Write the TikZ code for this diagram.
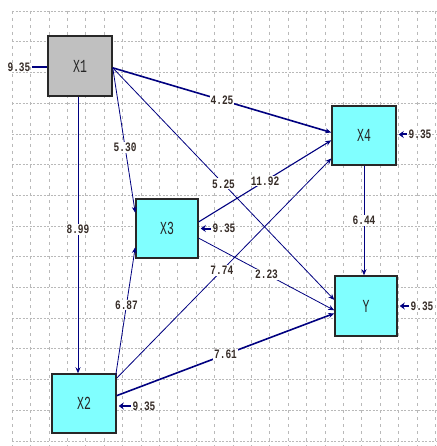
\documentclass[tikz,border=0pt]{standalone}
\usepackage{fontspec}
\usepackage{graphicx}
\setmonofont{Liberation Mono}
\usetikzlibrary{arrows.meta,calc}
\definecolor{edgeblue}{RGB}{0,0,128}
\definecolor{boxcyan}{RGB}{128,255,255}
\definecolor{boxgray}{RGB}{192,192,192}
\definecolor{labtext}{RGB}{55,45,40}
\definecolor{gridcol}{RGB}{185,185,185}
\newcommand{\labtxt}[1]{\scalebox{1}[1.35]{\ttfamily\bfseries\fontsize{9.5}{10}\selectfont #1}}
\newcommand{\boxtxt}[1]{\scalebox{1}[1.6]{\ttfamily\fontsize{11.5}{12}\selectfont #1}}
\begin{document}
\begin{tikzpicture}[x=1pt,y=-1pt,
  gridv/.style={gridcol, line width=0.5pt, dash pattern=on 3pt off 4pt},
  gridh/.style={gridcol, line width=0.5pt, dash pattern=on 2pt off 1.5pt},
  varbox/.style={draw={rgb,255:red,40;green,40;blue,40}, line width=1.5pt, inner sep=0pt, text=black!85},
  edge/.style={edgeblue, line width=0.8pt, -{Stealth[length=6pt,width=5pt]}},
  thickedge/.style={edge, line width=1.6pt},
  lab/.style={fill=white, inner sep=1pt, text=labtext},
  errlab/.style={inner sep=0.5pt, text=labtext},
  err/.style={edgeblue, line width=2pt, -{Stealth[length=5pt,width=7pt]}, shorten >=2pt}]
\useasboundingbox (0,0) rectangle (436,446);
\fill[white] (0,0) rectangle (436,446);
% grid
\foreach \k in {0,...,23} \draw[gridv] ({12+18.4*\k},11) -- ({12+18.4*\k},446);
\foreach \k in {0,...,14} \draw[gridh] (12,{11+30.7*\k}) -- (436,{11+30.7*\k});
% nodes
\node[varbox, fill=boxgray, minimum width=64pt, minimum height=60pt] (X1) at (80,66) {\boxtxt{X1}};
\node[varbox, fill=boxcyan, minimum width=62pt, minimum height=59pt] (X3) at (167,228.5) {\boxtxt{X3}};
\node[varbox, fill=boxcyan, minimum width=64pt, minimum height=59pt] (X4) at (364,135.5) {\boxtxt{X4}};
\node[varbox, fill=boxcyan, minimum width=62pt, minimum height=60pt] (Y) at (366,306) {\boxtxt{Y}};
\node[varbox, fill=boxcyan, minimum width=64pt, minimum height=59pt] (X2) at (84,403.5) {\boxtxt{X2}};
% edges
\coordinate (x1o) at ($(X1.north east)!0.53!(X1.south east)$);
\draw[edge] ([xshift=-2pt]X1.south) -- ([xshift=-6pt]X2.north) node[lab, pos=0.48] {\labtxt{8.99}};
\draw[edge] (x1o) -- ($(X3.north west)!0.24!(X3.south west)$) node[lab, pos=0.55] {\labtxt{5.30}};
\draw[thickedge] (x1o) -- ($(X4.north west)!0.45!(X4.south west)$) node[lab, pos=0.5] {\labtxt{4.25}};
\draw[edge] (x1o) -- ($(Y.north west)!0.40!(Y.south west)$) node[lab, pos=0.5] {\labtxt{5.25}};
\draw[edge, line width=1.1pt] ($(X3.north east)!0.39!(X3.south east)$) -- ($(X4.north west)!0.58!(X4.south west)$) node[lab, pos=0.5] {\labtxt{11.92}};
\draw[edge] ($(X3.north east)!0.66!(X3.south east)$) -- ($(Y.north west)!0.57!(Y.south west)$) node[lab, pos=0.5] {\labtxt{2.23}};
\draw[edge] ([xshift=-1pt,yshift=-2pt]X2.north east) -- ($(X3.north west)!0.81!(X3.south west)$) node[lab, pos=0.55] {\labtxt{6.87}};
\draw[edge] ($(X2.north east)!0.08!(X2.south east)$) -- ($(X4.north west)!0.88!(X4.south west)$) node[lab, pos=0.49] {\labtxt{7.74}};
\draw[thickedge] ($(X2.north east)!0.37!(X2.south east)$) -- ($(Y.north west)!0.62!(Y.south west)$) node[lab, pos=0.5] {\labtxt{7.61}};
\draw[edge] (X4.south) -- ([xshift=-2pt]Y.north) node[lab, pos=0.5] {\labtxt{6.44}};
% error terms
\node[errlab] (e1) at (19,67) {\labtxt{9.35}};
\node[errlab] (e3) at (224,228.5) {\labtxt{9.35}};
\node[errlab] (e4) at (420,134.5) {\labtxt{9.35}};
\node[errlab] (eY) at (422,306) {\labtxt{9.35}};
\node[errlab] (e2) at (144,406) {\labtxt{9.35}};
\draw[edgeblue, line width=1.5pt] ([xshift=1pt]e1.east) -- (e1.east -| X1.west);
\draw[err] ([xshift=-1pt]e3.west) -- (e3.west -| X3.east);
\draw[err] ([xshift=-1pt]e4.west) -- (e4.west -| X4.east);
\draw[err] ([xshift=-1pt]eY.west) -- (eY.west -| Y.east);
\draw[err] ([xshift=-1pt]e2.west) -- (e2.west -| X2.east);
\end{tikzpicture}
\end{document}
